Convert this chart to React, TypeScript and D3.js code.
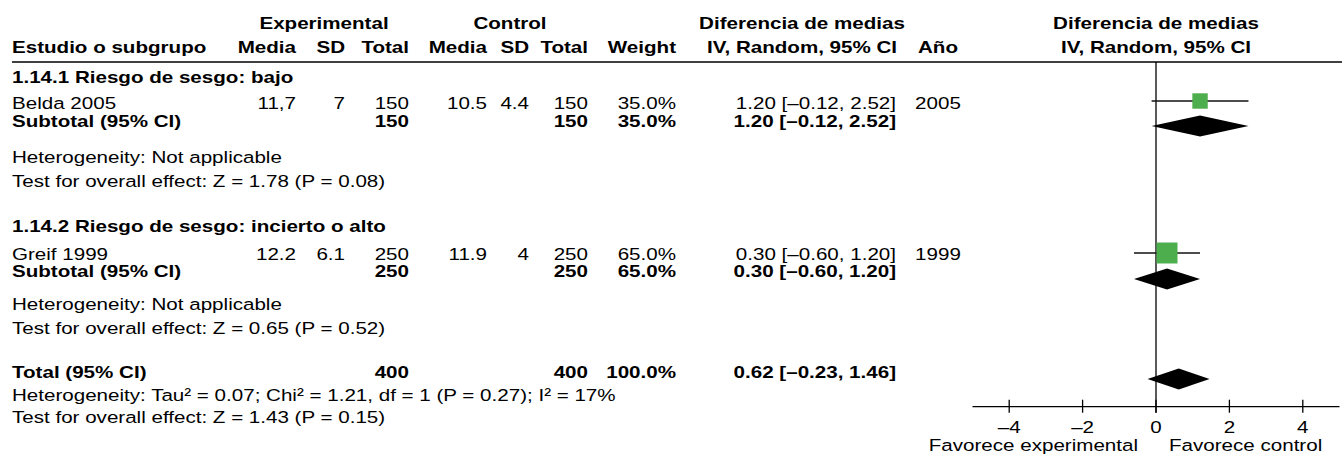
import React from "react";
import * as d3 from "d3";

// ---------- data ----------
const studies = ["Belda 2005", "Greif 1999"];
const studyYears = ["2005", "1999"];
const expMean = ["11,7", "12.2"];
const expSD = ["7", "6.1"];
const expTotal = [150, 250];
const ctlMean = ["10.5", "11.9"];
const ctlSD = ["4.4", "4"];
const ctlTotal = [150, 250];
const studyWeight = [35.0, 65.0];
const studyMD = [1.2, 0.3];
const studyLow = [-0.12, -0.6];
const studyHigh = [2.52, 1.2];

const subgroupNames = ["1.14.1 Riesgo de sesgo: bajo", "1.14.2 Riesgo de sesgo: incierto o alto"];
const subExpTotal = [150, 250];
const subCtlTotal = [150, 250];
const subWeight = [35.0, 65.0];
const subMD = [1.2, 0.3];
const subLow = [-0.12, -0.6];
const subHigh = [2.52, 1.2];
const subHeterogeneity = ["Heterogeneity: Not applicable", "Heterogeneity: Not applicable"];
const subTest = ["Test for overall effect: Z = 1.78 (P = 0.08)", "Test for overall effect: Z = 0.65 (P = 0.52)"];

const totalExp = [400];
const totalCtl = [400];
const totalWeight = [100.0];
const totalMD = [0.62];
const totalLow = [-0.23];
const totalHigh = [1.46];
const totalHeterogeneity = "Heterogeneity: Tau² = 0.07; Chi² = 1.21, df = 1 (P = 0.27); I² = 17%";
const totalTest = "Test for overall effect: Z = 1.43 (P = 0.15)";

const axisTicks = [-4, -2, 0, 2, 4];
const favourLabels = ["Favorece experimental", "Favorece control"];

// ---------- layout ----------
const W = 1342;
const H = 456;
const FONT = "'Liberation Sans', Arial, Helvetica, sans-serif";
const SX = 1.19;
const FS = 17.3;

// text baselines per row
const rowY: Record<string, number> = {
  h1: 29, h2: 53, g0: 83, s0: 109, sub0: 127, het0: 163, test0: 187,
  g1: 232, s1: 260, sub1: 277, het1: 310, test1: 334,
  tot: 378, totHet: 401, totTest: 423, tick: 433, fav: 451,
};
// mark centres per row
const markY: Record<string, number> = { s0: 101, sub0: 126, s1: 253, sub1: 279, tot: 379 };
const headerLineY = 62;
const axisY = 406.7;

// column anchors
const col = {
  label: 12, expMean: 296, expSD: 345, expTotal: 409, ctlMean: 487, ctlSD: 529,
  ctlTotal: 588, weight: 676, ci: 896, year: 938,
};

const fmt2 = (v: number) => d3.format(".2f")(v).replace(/[−-]/g, "–");
const fmtCI = (m: number, l: number, h: number) => `${fmt2(m)} [${fmt2(l)}, ${fmt2(h)}]`;
const fmtW = (w: number) => d3.format(".1f")(w) + "%";
const fmtTick = (v: number) => d3.format("d")(v).replace(/[−-]/g, "–");

function T({ x, y, anchor = "start", bold = false, children }: any) {
  return (
    <text
      transform={`translate(${x},${y}) scale(${SX},1)`}
      textAnchor={anchor}
      fontWeight={bold ? "bold" : "normal"}
      fontSize={FS}
      fontFamily={FONT}
      fill="#000"
    >
      {children}
    </text>
  );
}

export default function App() {
  const x = d3.scaleLinear().domain([-5, 5]).range([972.5, 1339.5]);
  const side = d3.scaleSqrt().domain([0, 100]).range([0, 26]);
  const diamondH = 10.5;
  const diamond = (m: number, l: number, h: number, cy: number) =>
    d3.line()([
      [x(l), cy],
      [x(m), cy - diamondH],
      [x(h), cy],
      [x(m), cy + diamondH],
    ]) + "Z";

  const studyRows = ["s0", "s1"];
  const subRows = ["sub0", "sub1"];
  const groupRows = ["g0", "g1"];
  const hetRows = ["het0", "het1"];
  const testRows = ["test0", "test1"];

  return (
    <svg width={W} height={H} style={{ position: "absolute", left: 0, top: 0, background: "#fff" }}>
      <rect width={W} height={H} fill="#fff" />
      {/* headers */}
      <T x={324} y={rowY.h1} anchor="middle" bold>Experimental</T>
      <T x={510} y={rowY.h1} anchor="middle" bold>Control</T>
      <T x={802} y={rowY.h1} anchor="middle" bold>Diferencia de medias</T>
      <T x={x(0)} y={rowY.h1} anchor="middle" bold>Diferencia de medias</T>
      <T x={col.label} y={rowY.h2} bold>Estudio o subgrupo</T>
      <T x={col.expMean} y={rowY.h2} anchor="end" bold>Media</T>
      <T x={col.expSD} y={rowY.h2} anchor="end" bold>SD</T>
      <T x={col.expTotal} y={rowY.h2} anchor="end" bold>Total</T>
      <T x={col.ctlMean} y={rowY.h2} anchor="end" bold>Media</T>
      <T x={col.ctlSD} y={rowY.h2} anchor="end" bold>SD</T>
      <T x={col.ctlTotal} y={rowY.h2} anchor="end" bold>Total</T>
      <T x={col.weight} y={rowY.h2} anchor="end" bold>Weight</T>
      <T x={802} y={rowY.h2} anchor="middle" bold>IV, Random, 95% CI</T>
      <T x={col.year} y={rowY.h2} anchor="middle" bold>Año</T>
      <T x={x(0)} y={rowY.h2} anchor="middle" bold>IV, Random, 95% CI</T>
      <line x1={col.label} x2={W} y1={headerLineY} y2={headerLineY} stroke="#000" strokeWidth={1.5} />

      {/* zero line */}
      <line x1={x(0)} x2={x(0)} y1={headerLineY} y2={axisY + 6} stroke="#000" strokeWidth={1.3} />

      {subgroupNames.map((g, i) => (
        <g key={g}>
          <T x={col.label} y={rowY[groupRows[i]]} bold>{g}</T>
          {/* study row */}
          <T x={col.label} y={rowY[studyRows[i]]}>{studies[i]}</T>
          <T x={col.expMean} y={rowY[studyRows[i]]} anchor="end">{expMean[i]}</T>
          <T x={col.expSD} y={rowY[studyRows[i]]} anchor="end">{expSD[i]}</T>
          <T x={col.expTotal} y={rowY[studyRows[i]]} anchor="end">{expTotal[i]}</T>
          <T x={col.ctlMean} y={rowY[studyRows[i]]} anchor="end">{ctlMean[i]}</T>
          <T x={col.ctlSD} y={rowY[studyRows[i]]} anchor="end">{ctlSD[i]}</T>
          <T x={col.ctlTotal} y={rowY[studyRows[i]]} anchor="end">{ctlTotal[i]}</T>
          <T x={col.weight} y={rowY[studyRows[i]]} anchor="end">{fmtW(studyWeight[i])}</T>
          <T x={col.ci} y={rowY[studyRows[i]]} anchor="end">{fmtCI(studyMD[i], studyLow[i], studyHigh[i])}</T>
          <T x={col.year} y={rowY[studyRows[i]]} anchor="middle">{studyYears[i]}</T>
          <line
            x1={x(studyLow[i])} x2={x(studyHigh[i])}
            y1={markY[studyRows[i]]} y2={markY[studyRows[i]]}
            stroke="#111" strokeWidth={1.3}
          />
          <rect
            x={x(studyMD[i]) - side(studyWeight[i]) / 2}
            y={markY[studyRows[i]] - side(studyWeight[i]) / 2}
            width={side(studyWeight[i])}
            height={side(studyWeight[i])}
            fill="#4cae4c"
          />
          {/* subtotal */}
          <T x={col.label} y={rowY[subRows[i]]} bold>Subtotal (95% CI)</T>
          <T x={col.expTotal} y={rowY[subRows[i]]} anchor="end" bold>{subExpTotal[i]}</T>
          <T x={col.ctlTotal} y={rowY[subRows[i]]} anchor="end" bold>{subCtlTotal[i]}</T>
          <T x={col.weight} y={rowY[subRows[i]]} anchor="end" bold>{fmtW(subWeight[i])}</T>
          <T x={col.ci} y={rowY[subRows[i]]} anchor="end" bold>{fmtCI(subMD[i], subLow[i], subHigh[i])}</T>
          <path d={diamond(subMD[i], subLow[i], subHigh[i], markY[subRows[i]])} fill="#000" />
          <T x={col.label} y={rowY[hetRows[i]]}>{subHeterogeneity[i]}</T>
          <T x={col.label} y={rowY[testRows[i]]}>{subTest[i]}</T>
        </g>
      ))}

      {/* total */}
      <T x={col.label} y={rowY.tot} bold>Total (95% CI)</T>
      <T x={col.expTotal} y={rowY.tot} anchor="end" bold>{totalExp[0]}</T>
      <T x={col.ctlTotal} y={rowY.tot} anchor="end" bold>{totalCtl[0]}</T>
      <T x={col.weight} y={rowY.tot} anchor="end" bold>{fmtW(totalWeight[0])}</T>
      <T x={col.ci} y={rowY.tot} anchor="end" bold>{fmtCI(totalMD[0], totalLow[0], totalHigh[0])}</T>
      <path d={diamond(totalMD[0], totalLow[0], totalHigh[0], markY.tot)} fill="#000" />
      <T x={col.label} y={rowY.totHet}>{totalHeterogeneity}</T>
      <T x={col.label} y={rowY.totTest}>{totalTest}</T>

      {/* axis */}
      <line x1={x(-5)} x2={x(5)} y1={axisY} y2={axisY} stroke="#000" strokeWidth={1.3} />
      {axisTicks.map((t) => (
        <g key={t}>
          <line x1={x(t)} x2={x(t)} y1={axisY - 7} y2={axisY + 6} stroke="#000" strokeWidth={1.3} />
          <T x={x(t)} y={rowY.tick} anchor="middle">{fmtTick(t)}</T>
        </g>
      ))}
      <T x={x(0) - 18} y={rowY.fav} anchor="end">{favourLabels[0]}</T>
      <T x={x(0) + 13} y={rowY.fav} anchor="start">{favourLabels[1]}</T>
    </svg>
  );
}
